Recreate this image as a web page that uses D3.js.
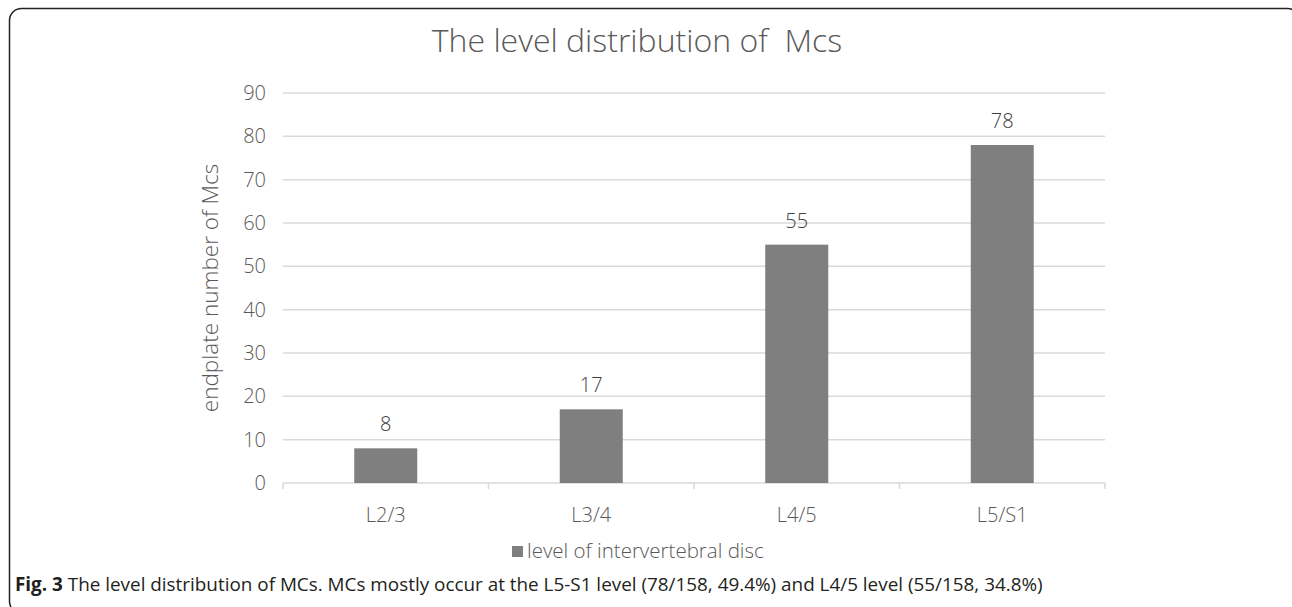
<!DOCTYPE html>
<html>
<head>
<meta charset="utf-8">
<script src="https://cdn.jsdelivr.net/npm/d3@7"></script>
<style>
  body { margin: 0; background: #fff; }
  text { font-family: "Open Sans", "Noto Sans", sans-serif; font-weight: 300; }
  .caption { font-family: "Open Sans", "Noto Sans", sans-serif; font-weight: 400; }
</style>
</head>
<body>
<div id="chart"></div>
<script>
// Data
const categories = ["L2/3", "L3/4", "L4/5", "L5/S1"];
const values = [8, 17, 55, 78];
const yTicks = [0, 10, 20, 30, 40, 50, 60, 70, 80, 90];
const seriesName = "level of intervertebral disc";

const W = 1292, H = 607;
const plot = { left: 283, right: 1105, top: 93, bottom: 483 };

const svg = d3.select("#chart")
    .append("svg")
    .attr("width", W)
    .attr("height", H);

// Frame around the figure
svg.append("rect")
    .attr("x", 9.5)
    .attr("y", 8.5)
    .attr("width", 1290)
    .attr("height", 605)
    .attr("rx", 12)
    .attr("fill", "none")
    .attr("stroke", "#222")
    .attr("stroke-width", 1.5);

// Scales
const x = d3.scaleBand()
    .domain(categories)
    .range([plot.left, plot.right]);

const y = d3.scaleLinear()
    .domain([0, 90])
    .range([plot.bottom, plot.top]);

const barWidth = 63;

// Gridlines
svg.append("g")
    .selectAll("line")
    .data(yTicks.filter(d => d > 0))
    .join("line")
    .attr("x1", plot.left)
    .attr("x2", plot.right)
    .attr("y1", d => y(d))
    .attr("y2", d => y(d))
    .attr("stroke", "#d9d9d9")
    .attr("stroke-width", 1.5);

// Y tick labels
svg.append("g")
    .selectAll("text")
    .data(yTicks)
    .join("text")
    .attr("x", 266)
    .attr("y", d => y(d) + 7)
    .attr("text-anchor", "end")
    .attr("fill", "#595959")
    .style("font-size", "20px")
    .text(d => d);

// X axis line and tick marks
const xAxis = svg.append("g")
    .attr("transform", `translate(0,${plot.bottom})`)
    .call(d3.axisBottom(x).tickSize(0).tickFormat(""));
xAxis.select(".domain").remove();
xAxis.append("line")
    .attr("x1", plot.left)
    .attr("x2", plot.right)
    .attr("stroke", "#d9d9d9")
    .attr("stroke-width", 1.5);
xAxis.append("g")
    .selectAll("line")
    .data(d3.range(categories.length + 1))
    .join("line")
    .attr("x1", i => plot.left + i * x.step())
    .attr("x2", i => plot.left + i * x.step())
    .attr("y1", 0)
    .attr("y2", 6)
    .attr("stroke", "#d9d9d9")
    .attr("stroke-width", 1.5);

// X labels
svg.append("g")
    .selectAll("text")
    .data(categories)
    .join("text")
    .attr("x", d => x(d) + x.bandwidth() / 2)
    .attr("y", 522)
    .attr("text-anchor", "middle")
    .attr("fill", "#595959")
    .style("font-size", "20px")
    .text(d => d);

// Bars
svg.append("g")
    .selectAll("rect")
    .data(values)
    .join("rect")
    .attr("x", (d, i) => x(categories[i]) + x.bandwidth() / 2 - barWidth / 2)
    .attr("width", barWidth)
    .attr("y", d => y(d))
    .attr("height", d => y(0) - y(d))
    .attr("fill", "#7f7f7f");

// Value labels
svg.append("g")
    .selectAll("text")
    .data(values)
    .join("text")
    .attr("x", (d, i) => x(categories[i]) + x.bandwidth() / 2)
    .attr("y", d => y(d) - 17)
    .attr("text-anchor", "middle")
    .attr("fill", "#404040")
    .style("font-size", "20px")
    .text(d => d);

// Title
svg.append("text")
    .attr("x", 637)
    .attr("y", 52)
    .attr("text-anchor", "middle")
    .attr("fill", "#595959")
    .style("font-size", "32px")
    .style("white-space", "pre")
    .attr("xml:space", "preserve")
    .text("The level distribution of  Mcs");

// Y axis title
svg.append("text")
    .attr("transform", `translate(218,${(plot.top + plot.bottom) / 2}) rotate(-90)`)
    .attr("text-anchor", "middle")
    .attr("fill", "#595959")
    .style("font-size", "22.5px")
    .text("endplate number of Mcs");

// Legend
const legend = svg.append("g").attr("transform", "translate(512,546)");
legend.append("rect")
    .attr("width", 11)
    .attr("height", 11)
    .attr("fill", "#7f7f7f");
legend.append("text")
    .attr("x", 15)
    .attr("y", 12)
    .attr("fill", "#595959")
    .style("font-size", "20.5px")
    .text(seriesName);

// Caption
const caption = svg.append("text")
    .attr("class", "caption")
    .attr("x", 15)
    .attr("y", 591)
    .attr("fill", "#231f20")
    .style("font-size", "17px");
caption.append("tspan")
    .style("font-weight", "bold")
    .text("Fig. 3");
caption.append("tspan")
    .text(" The level distribution of MCs. MCs mostly occur at the L5-S1 level (78/158, 49.4%) and L4/5 level (55/158, 34.8%)");
const cw = caption.node().getComputedTextLength();
caption.style("font-size", (17 * 1028 / cw) + "px");
</script>
</body>
</html>
